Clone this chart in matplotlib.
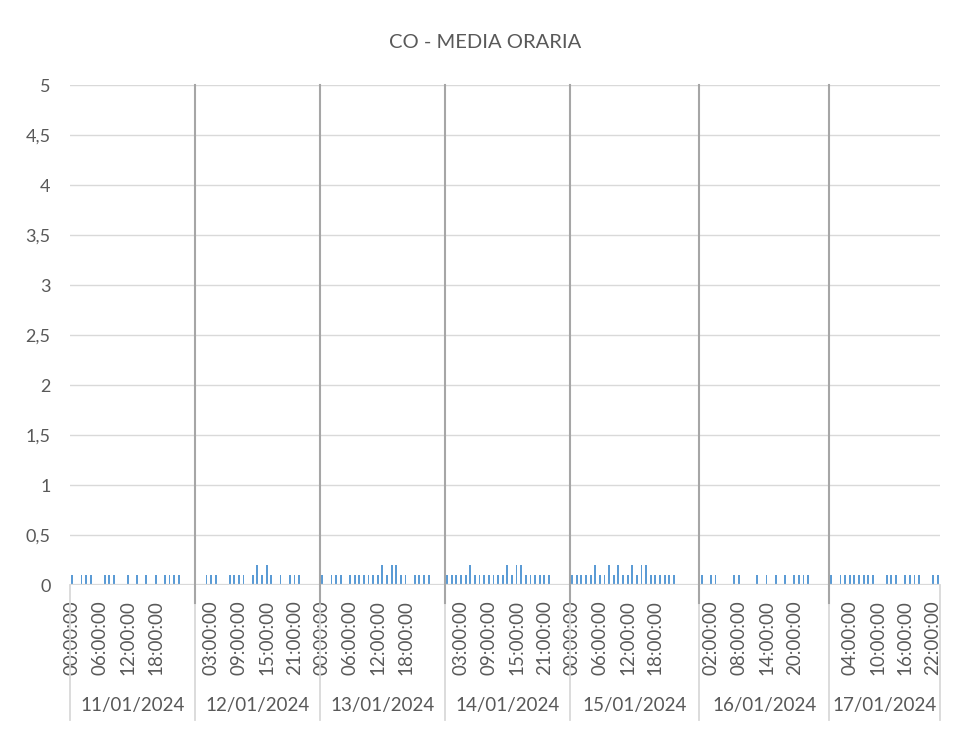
import numpy as np
import matplotlib.pyplot as plt

plt.rcParams['font.family'] = ['Lato', 'DejaVu Sans']

# giorni e valori orari (mg/m3), 24 ore per giorno
giorni = ["11/01/2024", "12/01/2024", "13/01/2024", "14/01/2024",
          "15/01/2024", "16/01/2024", "17/01/2024"]
ore = ["%02d:00:00" % h for h in range(24)]
# righe senza orario in coda ad ogni giorno
righe_extra = [3, 3, 3, 3, 4, 4, 0]

co_11 = [0.1, 0, 0.1, 0.1, 0.1, 0, 0, 0.1, 0.1, 0.1, 0, 0, 0.1, 0, 0.1, 0, 0.1, 0, 0.1, 0, 0.1, 0.1, 0.1, 0.1]
co_12 = [0, 0, 0.1, 0.1, 0.1, 0, 0, 0.1, 0.1, 0.1, 0.1, 0, 0.1, 0.2, 0.1, 0.2, 0.1, 0, 0.1, 0, 0.1, 0.1, 0.1, 0]
co_13 = [0.1, 0, 0.1, 0.1, 0.1, 0, 0.1, 0.1, 0.1, 0.1, 0.1, 0.1, 0.1, 0.2, 0.1, 0.2, 0.2, 0.1, 0.1, 0, 0.1, 0.1, 0.1, 0.1]
co_14 = [0.1, 0.1, 0.1, 0.1, 0.1, 0.2, 0.1, 0.1, 0.1, 0.1, 0.1, 0.1, 0.1, 0.2, 0.1, 0.2, 0.2, 0.1, 0.1, 0.1, 0.1, 0.1, 0.1, 0]
co_15 = [0.1, 0.1, 0.1, 0.1, 0.1, 0.2, 0.1, 0.1, 0.2, 0.1, 0.2, 0.1, 0.1, 0.2, 0.1, 0.2, 0.2, 0.1, 0.1, 0.1, 0.1, 0.1, 0.1, 0]
co_16 = [0.1, 0, 0.1, 0.1, 0, 0, 0, 0.1, 0.1, 0, 0, 0, 0.1, 0, 0.1, 0, 0.1, 0, 0.1, 0, 0.1, 0.1, 0.1, 0.1]
co_17 = [0.1, 0, 0.1, 0.1, 0.1, 0.1, 0.1, 0.1, 0.1, 0.1, 0, 0, 0.1, 0.1, 0.1, 0, 0.1, 0.1, 0.1, 0.1, 0, 0, 0.1, 0.1]

y_ticks = [0, 0.5, 1, 1.5, 2, 2.5, 3, 3.5, 4, 4.5, 5]
y_labels = ["0", "0,5", "1", "1,5", "2", "2,5", "3", "3,5", "4", "4,5", "5"]

serie = [co_11, co_12, co_13, co_14, co_15, co_16, co_17]
valori = []
etichette = []
for v, extra in zip(serie, righe_extra):
    valori += v + [np.nan] * extra
    etichette += ore + [""] * extra
x = np.arange(len(valori))

testo = "#595959"
griglia = "#d9d9d9"

fig = plt.figure(figsize=(9.56, 7.29), dpi=100)
ax = fig.add_axes([70 / 956, 1 - 585 / 729, 870 / 956, 500 / 729])

ax.bar(x, valori, width=0.4, color="#5b9bd5", zorder=3)

ax.set_xlim(-0.5, len(valori) - 0.5)
ax.set_ylim(0, 5)
ax.set_yticks(y_ticks)
ax.set_yticklabels(y_labels)
ax.grid(axis="y", color=griglia, linewidth=1)
for s in ax.spines.values():
    s.set_visible(False)
ax.axhline(0, color=griglia, linewidth=1.6, zorder=4)

pos = [i for i in range(len(etichette)) if i % 6 == 0 and etichette[i] != ""]
ax.set_xticks(pos)
ax.set_xticklabels([etichette[i] for i in pos], rotation=90)
ax.tick_params(axis="x", length=0, pad=11, labelsize=13.5, labelcolor=testo)
ax.tick_params(axis="y", length=0, pad=14, labelsize=13, labelcolor=testo)

# separatori tra i giorni
bordi = np.concatenate([[0], np.cumsum([24 + e for e in righe_extra])]) - 0.5
tr = ax.get_xaxis_transform()
for b in bordi:
    ax.plot([b, b], [0, -0.27], transform=tr, color=griglia, linewidth=1.3, clip_on=False)
for b in bordi[1:-1]:
    ax.plot([b, b], [-0.036, 1.0], transform=tr, color="#a6a6a6", linewidth=1.5,
            clip_on=False, zorder=5)
for g, a, b in zip(giorni, bordi[:-1], bordi[1:]):
    ax.text((a + b) / 2, -0.24, g, transform=tr, ha="center", va="center",
            fontsize=13.5, color=testo)

fig.text(0.507, 1 - 42 / 729, "CO - MEDIA ORARIA", ha="center", va="center",
         fontsize=14.5, color=testo)

fig.savefig("out.png", dpi=100)
